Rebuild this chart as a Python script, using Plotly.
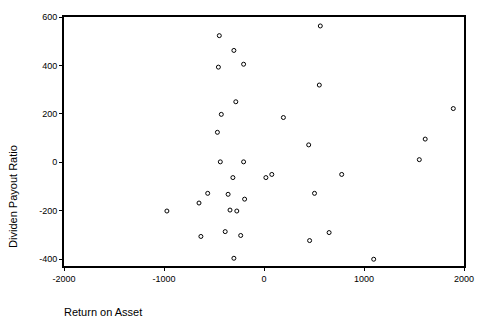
import plotly.graph_objects as go

roa = [563, -447, -301, -204, -456, 553, -282, -427, 194, -466, 447, -437, -204,
       -311, 19, 78, -563, -650, -359, -194, -340, -272, -631, -388, -233, -301,
       777, 505, 651, 456, 1097, 1893, 1612, 1553, -971]
dpr = [563, 523, 462, 405, 393, 319, 250, 198, 185, 124, 72, 2, 2,
       -63, -63, -50, -128, -168, -132, -152, -197, -201, -306, -286, -302, -396,
       -50, -128, -290, -323, -400, 222, 96, 11, -201]

x_ticks = [-2000, -1000, 0, 1000, 2000]
x_labels = ["-2000", "-1000", "0", "1000", "2000"]
y_ticks = [-400, -200, 0, 200, 400, 600]
y_labels = ["-400", "-200", "0", "200", "400", "600"]

fig = go.Figure()
fig.add_trace(go.Scatter(
    x=roa, y=dpr, mode="markers",
    marker=dict(symbol="circle-open", size=4, color="black", line=dict(width=1)),
    showlegend=False,
))

fig.update_layout(
    width=470, height=311,
    margin=dict(l=56, r=4, t=5, b=53),
    paper_bgcolor="white", plot_bgcolor="white",
    font=dict(family="Liberation Sans, Arial, sans-serif", size=9, color="black"),
)
fig.update_xaxes(
    range=[-2000, 2000], tickvals=x_ticks, ticktext=x_labels,
    showgrid=False, zeroline=False, showline=True, linecolor="black", linewidth=2,
    mirror=True, ticks="outside", ticklen=3, tickcolor="black",
    ticklabeloverflow="allow",
)
fig.update_yaxes(
    range=[-428, 600], tickvals=y_ticks, ticktext=y_labels,
    showgrid=False, zeroline=False, showline=True, linecolor="black", linewidth=2,
    mirror=True, ticks="outside", ticklen=3, tickcolor="black",
    ticklabeloverflow="allow",
)
fig.add_annotation(
    text="Return on Asset", xref="paper", yref="paper", x=-0.005, y=-0.186,
    xanchor="left", yanchor="middle", showarrow=False,
    font=dict(size=11, family="Liberation Sans, Arial, sans-serif"),
)
fig.add_annotation(
    text="Dividen Payout Ratio", xref="paper", yref="paper", x=-0.126, y=0.28,
    xanchor="center", yanchor="middle", textangle=-90, showarrow=False,
    font=dict(size=11, family="Liberation Sans, Arial, sans-serif"),
)
fig.write_html("out.html", config={"displayModeBar": False})
